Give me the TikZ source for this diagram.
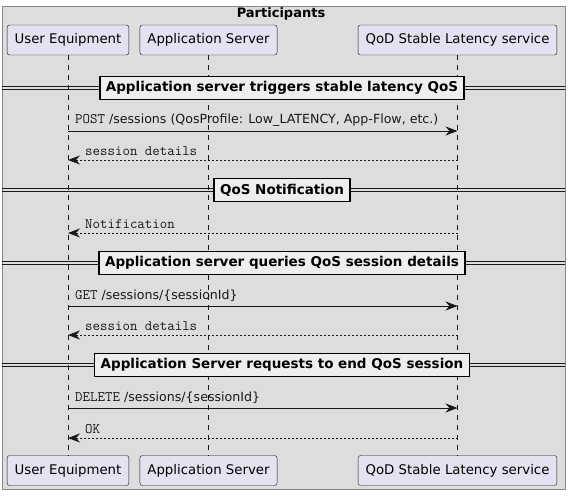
\documentclass[tikz,border=0pt]{standalone}
\usepackage{fontspec}
\setmainfont{DejaVu Sans}
\usetikzlibrary{arrows.meta}

\definecolor{framebg}{HTML}{DDDDDD}
\definecolor{framebd}{HTML}{888888}
\definecolor{partbg}{HTML}{E2E2F0}
\definecolor{linecol}{HTML}{181818}
\definecolor{divbg}{HTML}{EEEEEE}

\newcommand{\monotxt}[1]{{\fontsize{14.5}{15}\ttfamily #1}}

\begin{document}
\begin{tikzpicture}[x=1pt,y=-1pt]
  \tikzstyle{participant}=[draw=linecol, fill=partbg, rounded corners=2.5pt, minimum height=30pt, inner xsep=7.5pt, font=\fontsize{13.3}{15}\selectfont]
  \tikzstyle{lifeline}=[draw=linecol, line width=0.5pt, dash pattern=on 5pt off 5pt]
  \tikzstyle{divbox}=[draw=black, fill=divbg, line width=1.5pt, inner xsep=6pt, minimum height=23pt, font=\fontsize{13.5}{15}\bfseries\selectfont]
  \tikzstyle{msg}=[draw=linecol, line width=0.8pt, -{Stealth[length=12pt,width=9pt,inset=4pt]}]
  \tikzstyle{reply}=[msg, dash pattern=on 2pt off 2pt]
  \tikzstyle{msglabel}=[anchor=south west, inner sep=0pt, text=linecol, font=\fontsize{12.6}{14}\selectfont]
  \useasboundingbox (0,0) rectangle (569,495);

  % participants box
  \draw[framebd, fill=framebg] (2,6) rectangle (565,489);
  \node[font=\fontsize{13}{15}\bfseries\selectfont] (title) at (281,14) {Participants};

  \node[participant] (ue)  at (68,40)    {User Equipment};
  \node[participant] (as)  at (208.5,40) {Application Server};
  \node[participant] (qod) at (457.5,40) {QoD Stable Latency service};
  \node[participant] (ueb)  at (68,470.5)    {User Equipment};
  \node[participant] (asb)  at (208.5,470.5) {Application Server};
  \node[participant] (qodb) at (457.5,470.5) {QoD Stable Latency service};

  \draw[lifeline] (ue) -- (ueb);
  \draw[lifeline] (as) -- (asb);
  \draw[lifeline] (qod) -- (qodb);

  % dividers
  \foreach \y/\name/\txt in {88/trig/Application server triggers stable latency QoS,
                             190/notif/QoS Notification,
                             263/query/Application server queries QoS session details,
                             365/stop/Application Server requests to end QoS session} {
    \draw[linecol, line width=0.8pt] (2,\y-1.5) -- (565,\y-1.5) (2,\y+1.5) -- (565,\y+1.5);
    \node[divbox] (\name) at (282,\y) {\txt};
  }

  % trigger
  \draw[msg] (ue |- 0,131) -- (qod |- 0,131);
  \node[msglabel] (postlbl) at (75,127) {\monotxt{POST} /sessions (QosProfile: Low\_LATENCY, App-Flow, etc.)};
  \draw[reply] (qod |- 0,160) -- (ue |- 0,160);
  \node[msglabel] (detlbl) at (85,156) {\monotxt{session details}};

  % notification
  \draw[reply] (qod |- 0,233) -- (ue |- 0,233);
  \node[msglabel] (notlbl) at (85,229) {\monotxt{Notification}};

  % query
  \draw[msg] (ue |- 0,306) -- (qod |- 0,306);
  \node[msglabel] (getlbl) at (75,302) {\monotxt{GET} /sessions/\{sessionId\}};
  \draw[reply] (qod |- 0,335) -- (ue |- 0,335);
  \node[msglabel] (det2lbl) at (85,331) {\monotxt{session details}};

  % delete
  \draw[msg] (ue |- 0,408) -- (qod |- 0,408);
  \node[msglabel] (dellbl) at (75,404) {\monotxt{DELETE} /sessions/\{sessionId\}};
  \draw[reply] (qod |- 0,438) -- (ue |- 0,438);
  \node[msglabel] (oklbl) at (85,434) {\monotxt{OK}};
\end{tikzpicture}
\end{document}
